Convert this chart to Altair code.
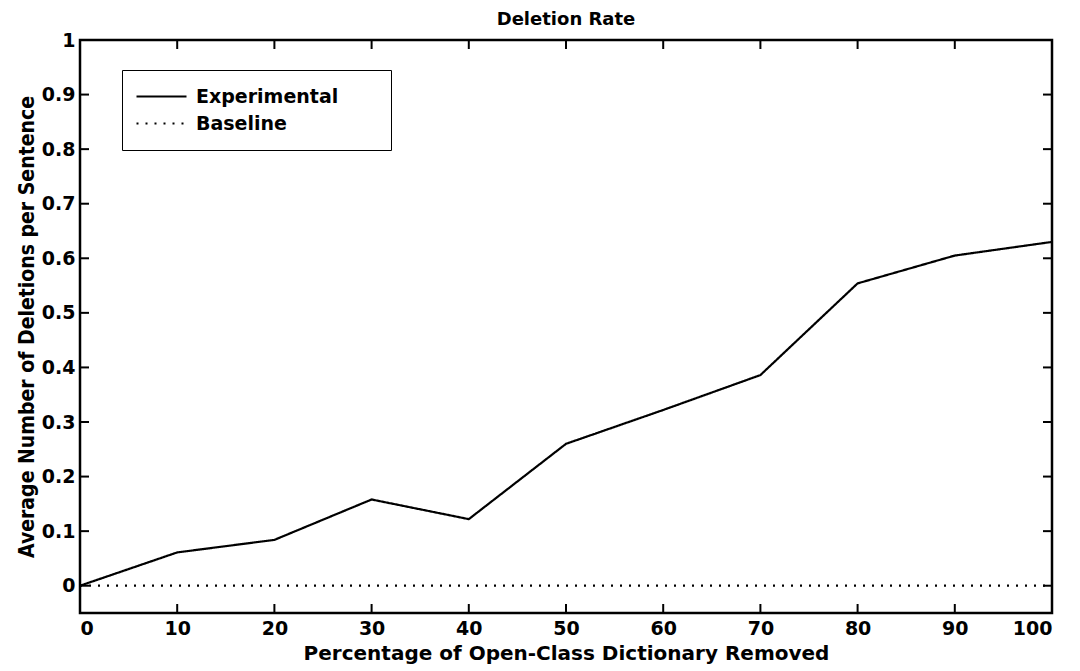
import altair as alt
import pandas as pd

x_vals = [0, 10, 20, 30, 40, 50, 60, 70, 80, 90, 100]
experimental = [0.0, 0.061, 0.084, 0.158, 0.122, 0.260, 0.322, 0.386, 0.554, 0.605, 0.630]
baseline = [0.0] * 11
series_names = ["Experimental", "Baseline"]

x_ticks = [0, 10, 20, 30, 40, 50, 60, 70, 80, 90, 100]
y_ticks = [0, 0.1, 0.2, 0.3, 0.4, 0.5, 0.6, 0.7, 0.8, 0.9, 1]

rows = []
for x, e, b in zip(x_vals, experimental, baseline):
    rows.append({"x": x, "y": e, "series": series_names[0]})
    rows.append({"x": x, "y": b, "series": series_names[1]})
df = pd.DataFrame(rows)

W, H = 972, 573
FONT = "DejaVu Sans"
CFONT = "DejaVu Sans Condensed, DejaVu Sans"

xs = alt.Scale(domain=[0, 100], nice=False, zero=False)
ys = alt.Scale(domain=[-0.05, 1], nice=False, zero=False)

pad = "\u00a0" * 6 + "\u200b"

lines = alt.Chart(df).mark_line(color="black", strokeWidth=2.2).encode(
    x=alt.X("x:Q", scale=xs,
            axis=alt.Axis(values=x_ticks, title="Percentage of Open-Class Dictionary Removed",
                          grid=False, ticks=False, domain=False, labelPadding=6, format="d",
                          labelFont=FONT, labelFontSize=19, labelFontWeight="bold", labelColor="black",
                          titleFont=FONT, titleFontSize=20, titleFontWeight="bold", titleColor="black",
                          titlePadding=5)),
    y=alt.Y("y:Q", scale=ys,
            axis=alt.Axis(values=y_ticks, title="Average Number of Deletions per Sentence",
                          grid=False, ticks=False, domain=False, labelPadding=5, format="~g",
                          labelFont=FONT, labelFontSize=19, labelFontWeight="bold", labelColor="black",
                          titleFont=CFONT, titleFontSize=21,
                          titleFontWeight="bold", titleColor="black", titlePadding=4)),
    strokeDash=alt.StrokeDash("series:N",
                              scale=alt.Scale(domain=series_names, range=[[1, 0], [2, 7]]),
                              legend=alt.Legend(title=None, orient="none", legendX=42, legendY=30,
                                                symbolType="stroke", symbolSize=2500,
                                                symbolStrokeColor="black", symbolStrokeWidth=2.2,
                                                labelFont=FONT, labelFontSize=19, labelFontWeight="bold",
                                                labelColor="black", strokeColor="black",
                                                labelExpr="datum.label + '" + pad + "'",
                                                fillColor="white", padding=13, rowPadding=0,
                                                clipHeight=27, labelOffset=8, labelLimit=400)),
    detail="series:N",
)

tx = pd.DataFrame({"t": x_ticks})
ty = pd.DataFrame({"t": y_ticks})
TL = 9
xb = alt.Chart(tx).mark_rule(color="black", strokeWidth=2).encode(
    x="t:Q", y=alt.value(H), y2=alt.value(H - TL))
xt = alt.Chart(tx).mark_rule(color="black", strokeWidth=2).encode(
    x="t:Q", y=alt.value(0), y2=alt.value(TL))
yl = alt.Chart(ty).mark_rule(color="black", strokeWidth=2).encode(
    y="t:Q", x=alt.value(0), x2=alt.value(TL))
yr = alt.Chart(ty).mark_rule(color="black", strokeWidth=2).encode(
    y="t:Q", x=alt.value(W), x2=alt.value(W - TL))

chart = alt.layer(lines, xb, xt, yl, yr).properties(
    width=W, height=H,
    title=alt.Title("Deletion Rate", font=FONT, fontSize=18, fontWeight="bold", color="black", offset=2),
    autosize=alt.AutoSizeParams(type="none"),
    padding={"left": 72, "top": 32, "right": 20, "bottom": 58},
    background="white",
).configure_view(stroke="black", strokeWidth=2.5)

chart.save("out.html", embed_options={"renderer": "svg", "actions": False})
